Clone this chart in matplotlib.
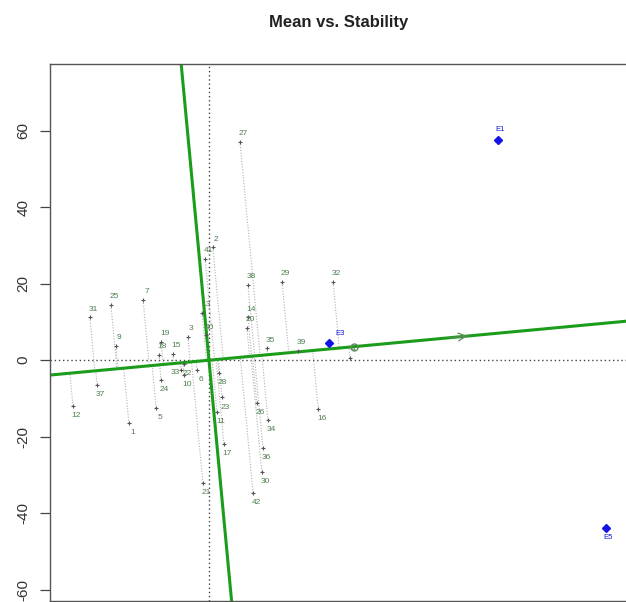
import numpy as np
import matplotlib.pyplot as plt

plt.rcParams["font.family"] = ["Liberation Sans", "DejaVu Sans"]
plt.rcParams["axes.unicode_minus"] = False

# genotype scores (PC1, PC2)
gen_labels = ["27", "2", "41", "38", "29", "32", "25", "31", "7", "13", "14", "20",
              "3", "40", "19", "15", "18", "9", "35", "39", "4", "22", "33", "10",
              "6", "28", "24", "37", "12", "5", "1", "23", "26", "11", "16", "34",
              "17", "36", "30", "21", "42"]
gen_x = [8.1, 1.0, -1.0, 10.2, 19.1, 32.4, -25.6, -31.1, -17.2, -1.8, 10.2, 9.9,
         -5.5, -0.8, -12.5, -9.4, -13.1, -24.3, 15.1, 23.2, 36.8, -6.5, -7.3, -6.5,
         -3.1, 2.6, -12.5, -29.2, -35.5, -13.8, -20.9, 3.4, 12.5, 2.1, 28.5, 15.4,
         3.9, 14.1, 13.8, -1.6, 11.5]
gen_y = [57.2, 29.5, 26.5, 19.6, 20.4, 20.4, 14.4, 11.2, 15.7, 12.3, 11.2, 8.4,
         6.0, 6.5, 4.7, 1.6, 1.3, 3.7, 3.1, 2.4, 0.5, -1.0, -2.6, -3.9,
         -2.6, -3.4, -5.2, -6.5, -12.0, -12.5, -16.5, -9.7, -11.2, -13.6, -12.8, -15.7,
         -21.9, -23.0, -29.2, -32.1, -34.7]

# environment scores
env_labels = ["E1", "E3", "E5"]
env_x = [75.5, 31.3, 103.7]
env_y = [57.7, 4.4, -43.9]

# average environment coordinate
avg_env = (37.9, 3.55)

fig = plt.figure(figsize=(6.26, 6.02), dpi=100)
ax = fig.add_axes([50 / 626, 1 / 602, 1 - 50 / 626 + 0.01, 537 / 602])
ax.set_xlim(-41.5, 110.5)
ax.set_ylim(-63.0, 77.5)

green = "#1b9c1b"
d = np.array(avg_env) / np.hypot(*avg_env)

# zero reference lines
ax.axhline(0, color="#444444", ls=(0, (1, 2)), lw=1.0, zorder=1)
ax.axvline(0, color="#444444", ls=(0, (1, 2)), lw=1.0, zorder=1)

# projections of genotypes on the ATC abscissa
for gx, gy in zip(gen_x, gen_y):
    t = gx * d[0] + gy * d[1]
    ax.plot([gx, t * d[0]], [gy, t * d[1]], color="#b0b0b0", ls=(0, (1, 1.5)),
            lw=0.8, zorder=1)

# ATC abscissa and ordinate
s = np.array([-200, 200])
ax.plot(s * d[0], s * d[1], color=green, lw=2.2, zorder=2)
ax.plot(-s * d[1], s * d[0], color=green, lw=2.2, zorder=2)

# arrow and average environment marker
tip = 68.5
ax.annotate("", xy=(tip * d[0], tip * d[1]), xytext=((tip - 6) * d[0], (tip - 6) * d[1]),
            arrowprops=dict(arrowstyle="->", color="#5d8a5d", lw=0.9,
                            mutation_scale=14), zorder=3)
ax.plot(avg_env[0], avg_env[1], "o", mfc="none", mec="#5d8a5d", ms=5, zorder=3)

# genotypes
ax.plot(gen_x, gen_y, "+", color="#555555", ms=3, mew=0.8, zorder=4)
for lab, gx, gy in zip(gen_labels, gen_x, gen_y):
    off = (2.5, 6) if gy >= 0 else (2.5, -7)
    if lab == "33":
        off = (-4, -1.5)
    ax.annotate(lab, (gx, gy), xytext=off, textcoords="offset points",
                ha="center", va="center", fontsize=6, color="#4f7f4f", zorder=5)

# environments
ax.plot(env_x, env_y, "D", color="#1414e6", ms=4.5, zorder=4)
for lab, ex, ey in zip(env_labels, env_x, env_y):
    off = 7 if ey >= 0 else -7
    dx = 8 if lab == "E3" else 1
    ax.annotate(lab, (ex, ey), xytext=(dx, off), textcoords="offset points",
                ha="center", va="center", fontsize=5.5, color="#1414e6", zorder=5)

ax.set_yticks([-60, -40, -20, 0, 20, 40, 60])
ax.set_xticks([])
ax.tick_params(axis="y", length=7, width=0.9, color="#444444", labelsize=11,
               labelrotation=90, pad=7, labelcolor="#333333")
for lab in ax.get_yticklabels():
    lab.set_va("center")
for sp in ax.spines.values():
    sp.set_color("#555555")
    sp.set_linewidth(1.0)

fig.text(339 / 626, 1 - 23 / 602, "Mean vs. Stability", ha="center", va="center",
         fontsize=12, fontweight="bold", color="#222222")

fig.savefig("out.png", dpi=100)
